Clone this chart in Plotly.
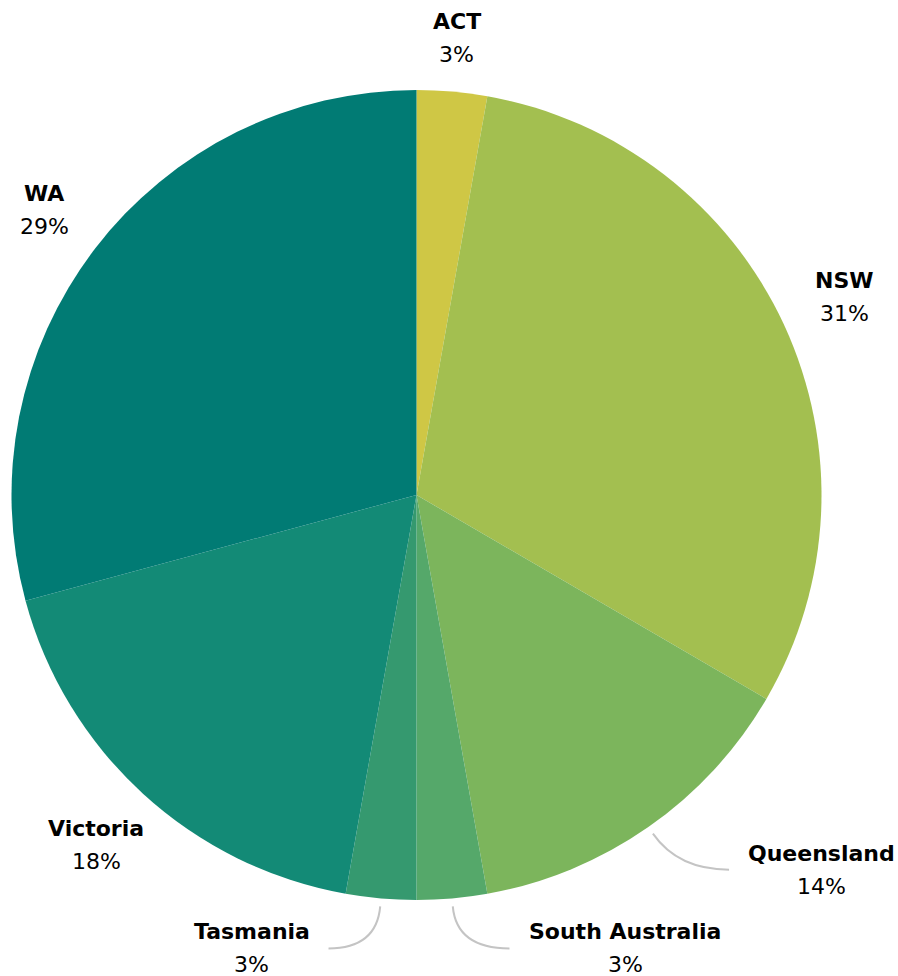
import math
import plotly.graph_objects as go

# ---- data ----
states = ["ACT", "NSW", "Queensland", "South Australia", "Tasmania", "Victoria", "WA"]
shares = [2.8, 30.6, 13.8, 2.8, 2.8, 18.0, 29.2]
colors = ["#CFC745", "#A3BF50", "#7CB55C", "#55A86A", "#35996F", "#138A76", "#017B74"]

# ---- layout ----
W, H = 898, 976
dom_x = [11 / W, 822 / W]
dom_y = [1 - 900 / H, 1 - 90 / H]
cx = (dom_x[0] + dom_x[1]) / 2 * W
cy = (1 - (dom_y[0] + dom_y[1]) / 2) * H
R = min((dom_x[1] - dom_x[0]) * W, (dom_y[1] - dom_y[0]) * H) / 2

FONT = "DejaVu Sans"
FS = 22
LINE_GAP = 16.5
LEADER_COLOR = "#C4C4C4"

# label placement: ("radial", radius) or ("leader", drop, run, text_offset)
label_layout = {
    "ACT": ("radial", 459),
    "NSW": ("radial", 472),
    "WA": ("radial", 469),
    "Victoria": ("radial", 474),
    "Queensland": ("leader", 36, 51, 92),
    "South Australia": ("leader", 42, 53, 116),
    "Tasmania": ("leader", 42, -48, -77),
}

fig = go.Figure(go.Pie(
    labels=states,
    values=shares,
    sort=False,
    direction="clockwise",
    rotation=0,
    marker=dict(colors=colors, line=dict(width=0)),
    textinfo="none",
    hoverinfo="label+percent",
    domain=dict(x=dom_x, y=dom_y),
    showlegend=False,
))


def px2paper(x, y):
    return x / W, 1 - y / H


total = sum(shares)
acc = 0.0
annotations = []
shapes = []
for name, v in zip(states, shares):
    mid = (acc + v / 2) / total * 2 * math.pi
    acc += v
    dx, dy = math.sin(mid), -math.cos(mid)
    pct = f"{round(v / total * 100)}%"
    spec = label_layout[name]
    if spec[0] == "radial":
        r = spec[1]
        lx, ly = cx + dx * r, cy + dy * r
    else:
        _, drop, run, off = spec
        sx, sy = cx + dx * (R + 8), cy + dy * (R + 8)
        ey = sy + drop
        t = drop / dy
        qx = sx + dx * t
        ex = qx + run
        p0 = px2paper(sx, sy)
        pq = px2paper(qx, ey)
        p1 = px2paper(ex, ey)
        shapes.append(dict(
            type="path", xref="paper", yref="paper",
            path=f"M {p0[0]},{p0[1]} Q {pq[0]},{pq[1]} {p1[0]},{p1[1]}",
            line=dict(color=LEADER_COLOR, width=2),
        ))
        lx, ly = ex + off, ey
    for txt, yy in ((f"<b>{name}</b>", ly - LINE_GAP), (pct, ly + LINE_GAP)):
        ax, ay = px2paper(lx, yy)
        annotations.append(dict(
            x=ax, y=ay, xref="paper", yref="paper", text=txt,
            showarrow=False, xanchor="center", yanchor="middle",
            font=dict(family=FONT, size=FS, color="#000000"),
        ))

fig.update_layout(
    width=W, height=H,
    margin=dict(l=0, r=0, t=0, b=0),
    paper_bgcolor="white",
    plot_bgcolor="white",
    annotations=annotations,
    shapes=shapes,
)

fig.write_html("out.html")
